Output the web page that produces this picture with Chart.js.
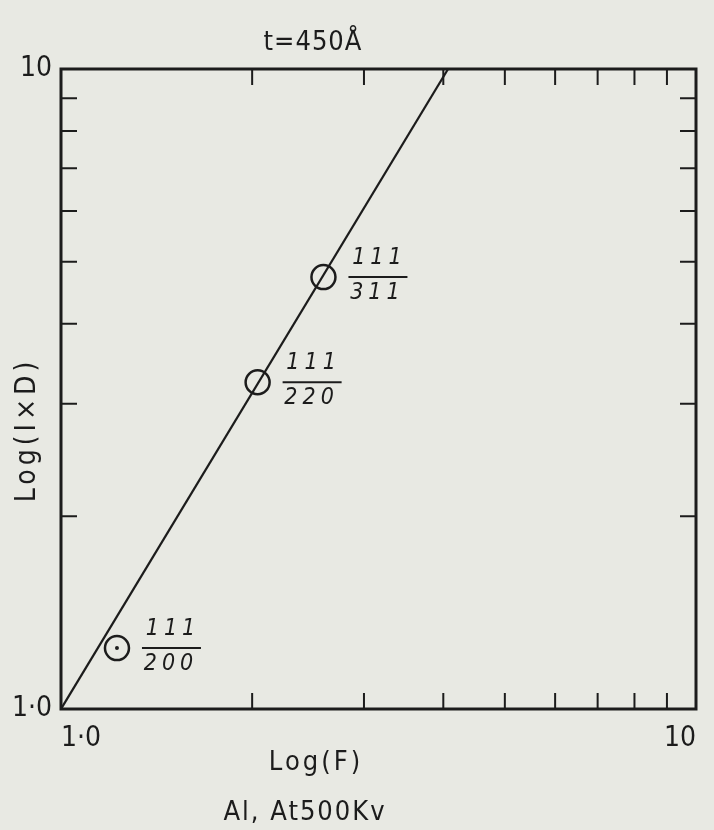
<!DOCTYPE html>
<html><head><meta charset="utf-8">
<script src="https://cdn.jsdelivr.net/npm/chart.js@4/dist/chart.umd.min.js"></script>
<style>html,body{margin:0;padding:0;background:#e8e9e3;}#wrap{width:714px;height:830px;position:relative;}</style>
</head><body><div id="wrap"><canvas id="c"></canvas></div>
<script>
// ---- data ----
const pointF = [1.225, 2.04, 2.59];          // Log(F) of measured ratios
const pointID = [1.245, 3.24, 4.73];         // Log(I×D)
const pointDot = [true, false, false];       // centre dot inside circle
const fracTop = ['111', '111', '111'];
const fracBottom = ['200', '220', '311'];
const fitF = [1.0, 4.07];
const fitID = [1.0, 10.0];
const majorTicks = [1, 10];
const xTickLabels = ['1·0', '10'];
const yTickLabels = ['1·0', '10'];
const minorTicks = [2, 3, 4, 5, 6, 7, 8, 9];
const titleText = 't=450Å';
const xTitleText = 'Log(F)';
const xSubText = 'Al, At500Kv';
const yTitleText = 'Log(I×D)';

// ---- styles ----
const FONT = "'DejaVu Sans Condensed','DejaVu Sans',sans-serif";
const INK = '#1c1c1c';
const BG = '#e8e9e3';
const TICK_LEN = 16;

function spaced(ctx, px) { try { ctx.letterSpacing = px + 'px'; } catch (e) {} }

const decor = {
  id: 'decor',
  beforeDraw(chart) {
    const ctx = chart.ctx;
    ctx.save(); ctx.fillStyle = BG; ctx.fillRect(0, 0, chart.width, chart.height); ctx.restore();
  },
  afterDatasetsDraw(chart) {
    const {ctx, chartArea: a, scales: {x, y}} = chart;
    ctx.save();
    ctx.strokeStyle = INK; ctx.fillStyle = INK;
    ctx.lineWidth = 3;
    ctx.strokeRect(a.left, a.top, a.right - a.left, a.bottom - a.top);
    ctx.lineWidth = 2;
    ctx.beginPath();
    minorTicks.forEach(v => {
      const px = x.getPixelForValue(v);
      ctx.moveTo(px, a.bottom); ctx.lineTo(px, a.bottom - TICK_LEN);
      ctx.moveTo(px, a.top); ctx.lineTo(px, a.top + TICK_LEN);
      const py = y.getPixelForValue(v);
      ctx.moveTo(a.left, py); ctx.lineTo(a.left + TICK_LEN, py);
      ctx.moveTo(a.right, py); ctx.lineTo(a.right - TICK_LEN, py);
    });
    ctx.stroke();
    // fraction labels next to points
    ctx.font = 'italic 23px ' + FONT;
    ctx.textAlign = 'center'; ctx.textBaseline = 'middle';
    spaced(ctx, 5);
    pointF.forEach((f, i) => {
      const cx = x.getPixelForValue(f) + 54;
      const cy = y.getPixelForValue(pointID[i]);
      ctx.fillText(fracTop[i], cx + 2, cy - 19);
      ctx.fillText(fracBottom[i], cx, cy + 16);
      ctx.beginPath(); ctx.lineWidth = 2;
      ctx.moveTo(cx - 29, cy); ctx.lineTo(cx + 30, cy); ctx.stroke();
    });
    // titles
    spaced(ctx, 1);
    ctx.font = '27px ' + FONT;
    ctx.fillText(titleText, 313, 43);
    spaced(ctx, 3);
    ctx.fillText(xTitleText, 316, 763);
    spaced(ctx, 2);
    ctx.fillText(xSubText, 305, 813);
    spaced(ctx, 4);
    ctx.font = '28px ' + FONT;
    ctx.translate(28, 430); ctx.rotate(-Math.PI / 2);
    ctx.fillText(yTitleText, 0, 0);
    ctx.restore();
  }
};

const circlePts = pointF.map((f, i) => ({x: f, y: pointID[i]}));
const dotPts = pointF.map((f, i) => ({x: f, y: pointID[i]})).filter((p, i) => pointDot[i]);
const linePts = fitF.map((f, i) => ({x: f, y: fitID[i]}));

new Chart(document.getElementById('c'), {
  type: 'scatter',
  data: {
    datasets: [
      {label: 'fit', data: linePts, showLine: true, borderColor: INK, borderWidth: 2.2, pointRadius: 0, fill: false},
      {label: 'ratios', data: circlePts, pointRadius: 12, pointBorderWidth: 2.5, pointBorderColor: INK, pointBackgroundColor: 'rgba(0,0,0,0)'},
      {label: 'dot', data: dotPts, pointRadius: 2, pointBorderWidth: 0, pointBackgroundColor: INK}
    ]
  },
  options: {
    responsive: true, maintainAspectRatio: false, animation: false,
    layout: {padding: {top: 69, right: 18, bottom: 0, left: 0}},
    plugins: {legend: {display: false}, tooltip: {enabled: false}},
    scales: {
      x: {
        type: 'logarithmic', min: 1, max: 10,
        grid: {display: false, drawTicks: false}, border: {display: false},
        afterBuildTicks: s => { s.ticks = majorTicks.map(v => ({value: v})); },
        afterFit: s => { s.height = 121; s.paddingLeft = 0; s.paddingRight = 0; },
        ticks: {autoSkip: false, maxRotation: 0, align: 'inner', padding: 13, color: INK, font: {family: FONT, size: 28},
          callback: (v) => { const i = majorTicks.indexOf(v); return i >= 0 ? xTickLabels[i] : ''; }}
      },
      y: {
        type: 'logarithmic', min: 1, max: 10,
        grid: {display: false, drawTicks: false}, border: {display: false},
        afterBuildTicks: s => { s.ticks = majorTicks.map(v => ({value: v})); },
        afterFit: s => { s.width = 61; s.paddingTop = 0; s.paddingBottom = 0; },
        ticks: {autoSkip: false, padding: 9, color: INK, font: {family: FONT, size: 28},
          callback: (v) => { const i = majorTicks.indexOf(v); return i >= 0 ? yTickLabels[i] : ''; }}
      }
    }
  },
  plugins: [decor]
});
</script></body></html>
